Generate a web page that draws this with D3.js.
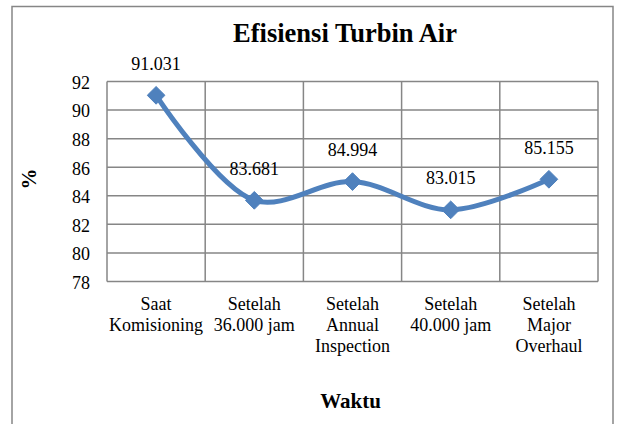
<!DOCTYPE html>
<html>
<head>
<meta charset="utf-8">
<script src="https://cdn.jsdelivr.net/npm/d3@7"></script>
<style>
  body { margin: 0; background: #fff; }
  svg { font-family: "Liberation Serif", "Times New Roman", serif; }
</style>
</head>
<body>
<div id="chartContainer"></div>
<script>
// Data
const categories = [
  ["Saat", "Komisioning"],
  ["Setelah", "36.000 jam"],
  ["Setelah", "Annual", "Inspection"],
  ["Setelah", "40.000 jam"],
  ["Setelah", "Major", "Overhaul"]
];
const values = [91.031, 83.681, 84.994, 83.015, 85.155];
const yTicks = [78, 80, 82, 84, 86, 88, 90, 92];

const w = 623;
const h = 424;
const plot = { left: 107, right: 598, top: 81.5, bottom: 281.5 };

const svg = d3.select("#chartContainer")
  .append("svg")
  .attr("width", w)
  .attr("height", h);

// outer frame
svg.append("rect")
  .attr("x", 12).attr("y", 6.5)
  .attr("width", 601).attr("height", 440)
  .attr("fill", "none")
  .attr("stroke", "#868686")
  .attr("stroke-width", 1.5);

const xScale = d3.scaleBand()
  .domain(d3.range(categories.length))
  .range([plot.left, plot.right]);

const yScale = d3.scaleLinear()
  .domain([78, 92])
  .range([plot.bottom, plot.top]);

// horizontal gridlines
svg.append("g")
  .selectAll("line")
  .data(yTicks)
  .enter()
  .append("line")
    .attr("x1", plot.left).attr("x2", plot.right)
    .attr("y1", d => yScale(d)).attr("y2", d => yScale(d))
    .attr("stroke", "#868686")
    .attr("stroke-width", 1.5);

// vertical gridlines
svg.append("g")
  .selectAll("line")
  .data(d3.range(categories.length + 1))
  .enter()
  .append("line")
    .attr("x1", d => plot.left + d * xScale.step())
    .attr("x2", d => plot.left + d * xScale.step())
    .attr("y1", plot.top).attr("y2", plot.bottom)
    .attr("stroke", "#868686")
    .attr("stroke-width", 1.5);

// y axis tick labels
svg.append("g")
  .selectAll("text")
  .data(yTicks)
  .enter()
  .append("text")
    .attr("x", plot.left - 17)
    .attr("y", d => yScale(d) + 1)
    .attr("dy", "0.35em")
    .attr("text-anchor", "end")
    .attr("font-size", 18)
    .text(d => d);

// category labels
const catG = svg.append("g")
  .selectAll("text")
  .data(categories)
  .enter()
  .append("text")
    .attr("text-anchor", "middle")
    .attr("font-size", 18)
    .attr("x", (d, i) => xScale(i) + xScale.bandwidth() / 2)
    .attr("y", 310);

catG.selectAll("tspan")
  .data(d => d)
  .enter()
  .append("tspan")
    .attr("x", function() { return d3.select(this.parentNode).attr("x"); })
    .attr("dy", (d, i) => i === 0 ? 0 : 21)
    .text(d => d);

// line
const pts = values.map((v, i) => [xScale(i) + xScale.bandwidth() / 2, yScale(v)]);

svg.append("path")
  .datum(pts)
  .attr("fill", "none")
  .attr("stroke", "#4F81BD")
  .attr("stroke-width", 5)
  .attr("d", d3.line().curve(d3.curveCatmullRom.alpha(0.5)));

// diamond markers
svg.append("g")
  .selectAll("path")
  .data(pts)
  .enter()
  .append("path")
    .attr("transform", d => `translate(${d[0]},${d[1]})`)
    .attr("d", d3.symbol().type(d3.symbolDiamond2).size(200))
    .attr("fill", "#4F81BD")
    .attr("stroke", "#4F81BD")
    .attr("stroke-width", 1);

// data labels
svg.append("g")
  .selectAll("text")
  .data(values)
  .enter()
  .append("text")
    .attr("x", (d, i) => pts[i][0])
    .attr("y", (d, i) => pts[i][1] - 25.5)
    .attr("text-anchor", "middle")
    .attr("font-size", 18)
    .text(d => d3.format(".3f")(d));

// title
svg.append("text")
  .attr("x", 345)
  .attr("y", 42)
  .attr("text-anchor", "middle")
  .attr("font-size", 26.5)
  .attr("font-weight", "bold")
  .text("Efisiensi Turbin Air");

// y axis title
svg.append("text")
  .attr("transform", "translate(36,179) rotate(-90)")
  .attr("text-anchor", "middle")
  .attr("font-size", 21)
  .attr("font-weight", "bold")
  .text("%");

// x axis title
svg.append("text")
  .attr("x", 350.5)
  .attr("y", 408)
  .attr("text-anchor", "middle")
  .attr("font-size", 21)
  .attr("font-weight", "bold")
  .text("Waktu");
</script>
</body>
</html>
